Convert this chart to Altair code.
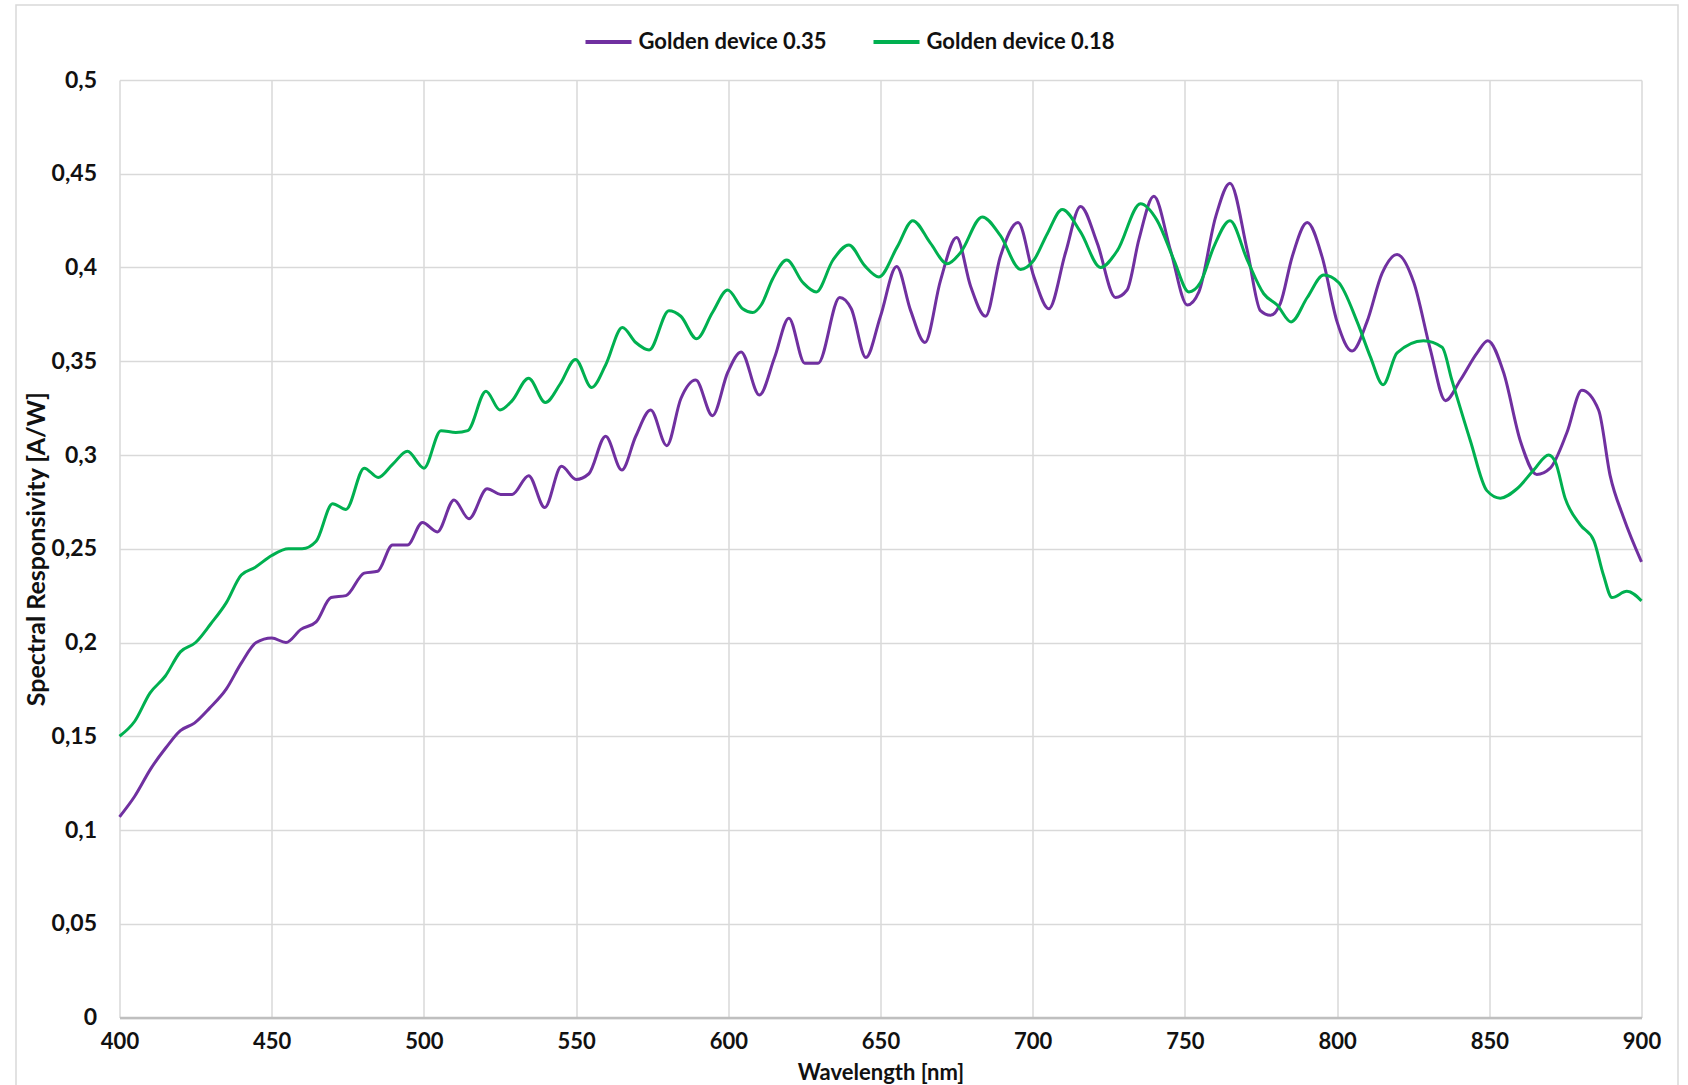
import altair as alt
import pandas as pd

S1 = "Golden device 0.35"
S2 = "Golden device 0.18"

wl_035 = [400, 405, 410.4, 415.3, 420, 424.6, 429.6, 435, 440, 444.9, 450, 454.7, 459.6, 464.6,
          469.5, 474.4, 480.4, 484.8, 489.7, 494.6, 499.5, 504.4, 509.9, 514.8, 520.8, 525.2, 529,
          534.4, 539.7, 545.2, 550, 554.2, 559.7, 565, 569.6, 574.5, 579.8, 584.4, 589.3, 594.8,
          599.8, 604.2, 610.2, 615.2, 619.9, 625.1, 629.5, 636.6, 640.4, 645.2, 650, 655.3, 659.9,
          664.6, 669.7, 675, 679.6, 684.5, 689.4, 695.2, 700.4, 705.3, 710.8, 715.7, 721.2, 727.2,
          731, 734.9, 739.8, 745.3, 750.8, 754.6, 760.1, 764.8, 770.5, 774.8, 778.1, 781.4, 785.2,
          790.2, 795.1, 800, 804.9, 809.8, 814.8, 819.7, 825.2, 830.6, 835.6, 840.5, 846, 849.5,
          854.7, 860.2, 865.6, 870, 875.5, 880.4, 885.9, 889.7, 894.1, 900]
sr_035 = [0.107, 0.118, 0.133, 0.144, 0.153, 0.157, 0.165, 0.175, 0.189, 0.200, 0.2024, 0.200, 0.207, 0.211,
          0.224, 0.225, 0.237, 0.238, 0.252, 0.252, 0.264, 0.259, 0.276, 0.266, 0.282, 0.279, 0.279,
          0.289, 0.272, 0.294, 0.287, 0.290, 0.310, 0.292, 0.310, 0.324, 0.305, 0.330, 0.340, 0.321,
          0.344, 0.355, 0.332, 0.352, 0.373, 0.349, 0.349, 0.384, 0.378, 0.352, 0.374, 0.4005, 0.377,
          0.360, 0.393, 0.416, 0.390, 0.374, 0.406, 0.424, 0.395, 0.378, 0.408, 0.4326, 0.413, 0.384,
          0.388, 0.415, 0.438, 0.409, 0.380, 0.387, 0.427, 0.445, 0.409, 0.377, 0.3745, 0.381, 0.4055,
          0.424, 0.4055, 0.371, 0.3555, 0.371, 0.397, 0.407, 0.392, 0.3565, 0.329, 0.340, 0.3545, 0.361,
          0.344, 0.3075, 0.2896, 0.293, 0.312, 0.3345, 0.324, 0.289, 0.2667, 0.243]

wl_018 = [400, 405, 410, 415, 420, 425, 430, 435, 440, 444.5, 450, 455.5, 460, 464.6, 470, 474.4,
          480.4, 485, 489.7, 494.6, 500, 505.6, 510.5, 514.4, 520.4, 525, 529, 534.4, 539.9, 544.8,
          549.8, 555.1, 559.7, 565.2, 569.6, 574, 580.5, 584.4, 589.6, 594.8, 599.8, 604.7, 608,
          610.8, 614.6, 619.2, 624.5, 628.9, 634.4, 639.6, 644.8, 649.5, 655.5, 660.6, 666.4, 671.9,
          676.3, 683.4, 689.4, 696, 700.4, 704.8, 709.7, 715.7, 722.3, 727.8, 735.4, 740.9, 746.4,
          751.3, 755.1, 759.5, 764.8, 770.5, 775.9, 780.3, 784.9, 790.2, 795.6, 800.5, 806.6, 810.9,
          815.1, 819.7, 828.4, 834.5, 837.7, 843.8, 849.2, 853.6, 859.1, 864.6, 869.5, 871.7, 874.9,
          879.9, 884.3, 887.5, 890.3, 895.2, 900]
sr_018 = [0.150, 0.158, 0.173, 0.182, 0.195, 0.200, 0.210, 0.221, 0.236, 0.240, 0.2464, 0.250, 0.250, 0.254, 0.274, 0.271,
          0.293, 0.288, 0.295, 0.302, 0.293, 0.313, 0.312, 0.313, 0.334, 0.324, 0.329, 0.341, 0.328, 0.338,
          0.351, 0.336, 0.348, 0.368, 0.360, 0.356, 0.377, 0.374, 0.362, 0.376, 0.388, 0.378, 0.376,
          0.380, 0.394, 0.404, 0.392, 0.387, 0.404, 0.412, 0.401, 0.395, 0.411, 0.425, 0.413, 0.402,
          0.408, 0.427, 0.417, 0.399, 0.404, 0.418, 0.431, 0.419, 0.400, 0.409, 0.434, 0.425, 0.404,
          0.387, 0.392, 0.411, 0.425, 0.404, 0.386, 0.380, 0.371, 0.384, 0.396, 0.392, 0.371, 0.3525,
          0.3375, 0.3545, 0.361, 0.3575, 0.340, 0.3075, 0.281, 0.277, 0.282, 0.292, 0.300, 0.2963, 0.277,
          0.2627, 0.2545, 0.236, 0.224, 0.2273, 0.2222]

x_ticks = list(range(400, 901, 50))
y_ticks = [round(i * 0.05, 2) for i in range(11)]
series_colors = ["#7030A0", "#00B050"]

df = pd.concat([
    pd.DataFrame({"wl": wl_035, "sr": sr_035, "series": S1}),
    pd.DataFrame({"wl": wl_018, "sr": sr_018, "series": S2}),
], ignore_index=True)

FONT = "Lato"

color = alt.Color(
    "series:N",
    scale=alt.Scale(domain=[S1, S2], range=series_colors),
    legend=alt.Legend(
        title=None, orient="none", direction="horizontal",
        legendX=464, legendY=-63,
        symbolType="stroke", symbolSize=2116, symbolStrokeWidth=4,
        labelFont=FONT, labelFontWeight="bold", labelFontSize=22, labelColor="#111111",
        labelOffset=5, columnPadding=38, labelLimit=0,
    ),
)

x = alt.X("wl:Q", title="Wavelength [nm]",
          scale=alt.Scale(domain=[400, 900], nice=False),
          axis=alt.Axis(values=x_ticks, ticks=False, tickSize=0, labelPadding=13.5,
                        titleY=62, titleBaseline="alphabetic",
                        domain=True, domainColor="#BFBFBF", domainWidth=2.5,
                        labelFlush=False, labelFontSize=22, titleFontSize=22))
y = alt.Y("sr:Q", title="Spectral Responsivity [A/W]",
          scale=alt.Scale(domain=[0, 0.5], nice=False),
          axis=alt.Axis(values=y_ticks, ticks=False, tickSize=0, labelPadding=23,
                        titlePadding=2, domain=False, labelFontSize=23, titleFontSize=25,
                        labelExpr="datum.value == 0 ? '0' : replace(format(datum.value, '.2~f'), '.', ',')"))

base = alt.Chart(df)
line1 = base.transform_filter(alt.datum.series == S1).mark_line(
    strokeWidth=3, interpolate="monotone").encode(x=x, y=y, color=color)
line2 = base.transform_filter(alt.datum.series == S2).mark_line(
    strokeWidth=3, interpolate="monotone").encode(x=x, y=y, color=color)

border = alt.Chart(alt.Data(values=[{}])).mark_rect(
    fill="transparent", stroke="#D9D9D9", strokeWidth=1.5
).encode(x=alt.value(-103.5), x2=alt.value(1558.5), y=alt.value(-75), y2=alt.value(1010))

chart = alt.layer(border, line1, line2).properties(
    width=1522, height=937.5,
    autosize=alt.AutoSizeParams(type="none"),
    padding={"left": 119.5, "top": 80, "right": 46.5, "bottom": 67.5},
    background="white",
).configure_view(stroke=None).configure_axis(
    labelFont=FONT, labelFontWeight="bold", labelColor="#111111",
    titleFont=FONT, titleFontWeight="bold", titleColor="#111111",
    gridColor="#D9D9D9", gridWidth=1.5,
)

chart.save("out.html", embed_options={"renderer": "svg", "actions": False})
